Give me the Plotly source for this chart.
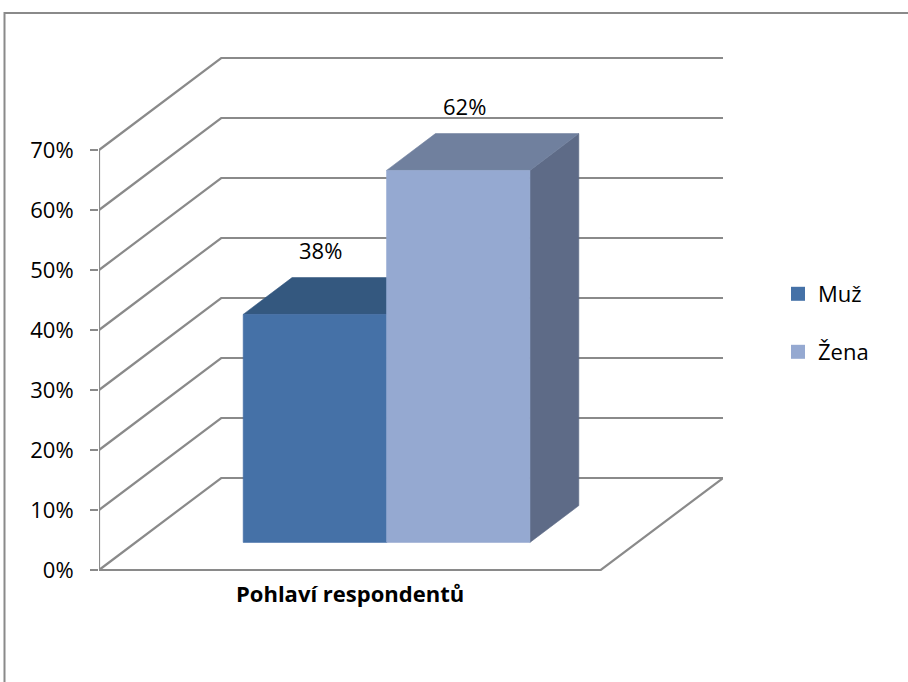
import plotly.graph_objects as go

# --- data -------------------------------------------------------------
category = "Pohlaví respondentů"
series_names = ["Muž", "Žena"]
series_values = [38, 62]            # percent
value_labels = ["38%", "62%"]
tick_values = [0, 10, 20, 30, 40, 50, 60, 70]
tick_labels = ["0%", "10%", "20%", "30%", "40%", "50%", "60%", "70%"]

front_colors = ["#4571A7", "#95A9D1"]
top_colors = ["#34587F", "#70809E"]
side_colors = ["#2F4C70", "#5E6B87"]

# --- 3D projection set-up (oblique view) ------------------------------
FLOOR_W = 1.0          # width of the floor in x units
DEPTH_X = 0.2435       # horizontal shift of the back wall, x units
DEPTH_Y = 15.33        # vertical shift of the back wall, percent units
BAR_F0, BAR_F1 = 0.30, 0.70   # bar depth inside the box
GAP_RATIO = 0.75       # side gap relative to one bar width

GRID_COLOR = "#8A8A8A"
FONT = "Open Sans"
FONT_SIZE = 22


def proj(x, v, d):
    """Project point (x, value, depth fraction) onto the 2D axes."""
    return x + d * DEPTH_X, v + d * DEPTH_Y


def polyline(points):
    xs, ys = [], []
    for seg in points:
        if seg is None:
            xs.append(None)
            ys.append(None)
        else:
            px, py = proj(*seg)
            xs.append(px)
            ys.append(py)
    return xs, ys


fig = go.Figure()

# walls: side-wall diagonals and back-wall gridlines
pts = []
for t in tick_values:
    pts += [(0, t, 0), (0, t, 1), (FLOOR_W, t, 1), None]
gx, gy = polyline(pts)
fig.add_trace(go.Scatter(x=gx, y=gy, mode="lines", hoverinfo="skip",
                         line=dict(color=GRID_COLOR, width=2.2),
                         showlegend=False))

# floor front and right edges
fx, fy = polyline([(0, 0, 0), (FLOOR_W, 0, 0), (FLOOR_W, 0, 1)])
fig.add_trace(go.Scatter(x=fx, y=fy, mode="lines", hoverinfo="skip",
                         line=dict(color=GRID_COLOR, width=2.2),
                         showlegend=False))

# front vertical value axis
ax, ay = polyline([(0, 0, 0), (0, tick_values[-1], 0)])
fig.add_trace(go.Scatter(x=ax, y=ay, mode="lines", hoverinfo="skip",
                         line=dict(color=GRID_COLOR, width=2.2),
                         showlegend=False))

# bars
n = len(series_values)
bar_w = FLOOR_W / (n + 2 * GAP_RATIO)
gap = GAP_RATIO * bar_w


def face(points, color):
    xs, ys = polyline(points + [points[0]])
    return go.Scatter(x=xs, y=ys, mode="lines", fill="toself",
                      fillcolor=color, line=dict(color=color, width=0.6),
                      hoverinfo="skip", showlegend=False)


for i, (name, v) in enumerate(zip(series_names, series_values)):
    xl = gap + i * bar_w
    xr = xl + bar_w
    fig.add_trace(face([(xr, 0, BAR_F0), (xr, 0, BAR_F1),
                        (xr, v, BAR_F1), (xr, v, BAR_F0)], side_colors[i]))
    fig.add_trace(face([(xl, v, BAR_F0), (xr, v, BAR_F0),
                        (xr, v, BAR_F1), (xl, v, BAR_F1)], top_colors[i]))
    fig.add_trace(face([(xl, 0, BAR_F0), (xr, 0, BAR_F0),
                        (xr, v, BAR_F0), (xl, v, BAR_F0)], front_colors[i]))
    lx, ly = proj((xl + xr) / 2, v, BAR_F0)
    fig.add_annotation(x=lx, y=v + BAR_F1 * DEPTH_Y, text=value_labels[i],
                       showarrow=False, xshift=6, yshift=28,
                       font=dict(family=FONT, size=FONT_SIZE, color="#000000"))

# legend entries
for i, name in enumerate(series_names):
    fig.add_trace(go.Scatter(x=[None], y=[None], mode="markers", name=name,
                             marker=dict(symbol="square", size=14,
                                         color=front_colors[i]),
                             legend="legend" if i == 0 else "legend2"))

# category label under the floor
fig.add_annotation(x=FLOOR_W / 2, y=0, text=f"<b>{category}</b>",
                   showarrow=False, yanchor="top", yshift=-6,
                   font=dict(family=FONT, size=FONT_SIZE, color="#000000"))

# outer chart frame
W, H = 908, 682
ML, MR, MT, MB = 99, 185, 40, 97
PW, PH = W - ML - MR, H - MT - MB


def paper_x(px):
    return (px - ML) / PW


def paper_y(py):
    return (H - MB - py) / PH


fig.add_shape(type="rect", xref="paper", yref="paper",
              x0=paper_x(4.5), x1=paper_x(930), y0=paper_y(700), y1=paper_y(13),
              line=dict(color="#8A8A8A", width=2), layer="below")

PX_PER_PCT = 6.0
y_bottom = -(H - MB - 570) / PX_PER_PCT
y_top = y_bottom + PH / PX_PER_PCT

legend_style = dict(font=dict(family=FONT, size=FONT_SIZE, color="#000000"),
                    bgcolor="rgba(0,0,0,0)", borderwidth=0,
                    xanchor="left", yanchor="middle", itemwidth=30)

fig.update_layout(
    width=W, height=H,
    margin=dict(l=ML, r=MR, t=MT, b=MB),
    paper_bgcolor="white", plot_bgcolor="white",
    xaxis=dict(range=[0, FLOOR_W + DEPTH_X], visible=False, fixedrange=True),
    yaxis=dict(range=[y_bottom, y_top], tickvals=tick_values,
               ticktext=tick_labels, showgrid=False, zeroline=False,
               showline=False, ticks="outside", ticklen=8, tickwidth=2,
               tickcolor=GRID_COLOR, ticklabelstandoff=12,
               tickfont=dict(family=FONT, size=FONT_SIZE, color="#000000"),
               fixedrange=True),
    legend=dict(x=paper_x(778), y=paper_y(294), **legend_style),
    legend2=dict(x=paper_x(778), y=paper_y(352), **legend_style),
    showlegend=True,
)

fig.write_html("out.html")
